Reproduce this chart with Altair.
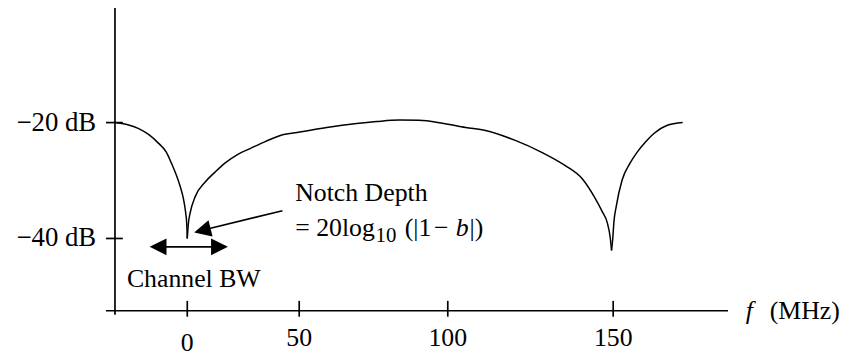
import altair as alt
import pandas as pd

# ---- curve (frequency in MHz, level in dB) ----
left_f = [-32.3, -27.0, -21.7, -17.3, -12.8, -9.3, -7.1, -4.9, -3.1, -1.8, -0.9, -0.22, 0.0]
left_db = [-20.0, -20.34, -21.03, -22.05, -23.59, -25.13, -27.0, -29.06, -31.11, -33.0, -35.04, -37.6, -40.0]

mid_f = [0.0, 0.44, 1.3, 3.5, 8.0, 12.4, 16.8, 22.6, 28.3, 35.0, 41.6, 49.1, 59.3, 69.3, 76.0,
         83.7, 90.3, 98.3, 105.4, 111.4, 120.4, 128.4, 135.3, 140.7, 144.3, 146.7, 148.2, 149.1, 149.5]
mid_db = [-40.0, -37.6, -35.56, -32.82, -30.26, -28.55, -27.0, -25.47, -24.44, -23.25, -22.22, -21.71,
          -20.85, -20.17, -19.83, -19.57, -19.6, -20.12, -20.85, -21.37, -23.08, -25.13, -27.35,
          -29.74, -32.82, -35.38, -37.26, -39.83, -42.05]

right_f = [149.5, 149.9, 150.2, 150.9, 152.7, 155.1, 157.2, 159.9, 162.3, 166.2, 171.0]
right_db = [-42.05, -39.83, -37.26, -34.53, -29.91, -27.0, -25.13, -23.25, -21.88, -20.51, -20.0]

# ---- axes ----
x_ticks = [0, 50, 100, 150]
x_tick_labels = ["0", "50", "100", "150"]
y_ticks = [-20, -40]
y_tick_labels = ["\u221220 dB", "\u221240 dB"]

FONT = "Liberation Serif"

xs = alt.Scale(domain=[0, 50, 100, 150], range=[181, 294, 444, 611], nice=False, zero=False)
ys = alt.Scale(domain=[-40, -20], range=[231, 114], nice=False, zero=False)

curve = pd.DataFrame({
    "f": left_f + mid_f + right_f,
    "db": left_db + mid_db + right_db,
    "seg": ["a"] * len(left_f) + ["b"] * len(mid_f) + ["c"] * len(right_f),
})

X = lambda fld: alt.X(fld, type="quantitative", scale=xs, axis=None)
Y = lambda fld: alt.Y(fld, type="quantitative", scale=ys, axis=None)

line = alt.Chart(curve).mark_line(color="black", strokeWidth=1.5, interpolate="monotone").encode(
    x=X("f"), y=Y("db"), detail="seg:N", order="f:Q"
)

# axis frame (data units)
frame = pd.DataFrame({
    "x1": [-36.3, -32.3] + x_ticks + [-36.3] * len(y_ticks),
    "x2": [184.7, -32.3] + x_ticks + [-28.8] * len(y_ticks),
    "y1": [-52.48, 0.0] + [-50.77] * len(x_ticks) + y_ticks,
    "y2": [-52.48, -53.16] + [-53.5] * len(x_ticks) + y_ticks,
})
frame_rules = alt.Chart(frame).mark_rule(color="black", strokeWidth=1.7).encode(
    x=X("x1"), x2="x2", y=Y("y1"), y2="y2"
)

xlab = pd.DataFrame({"f": x_ticks, "t": x_tick_labels, "y": [-59.4, -58.6, -58.6, -58.6]})
xlabels = alt.Chart(xlab).mark_text(font=FONT, fontSize=26, align="center", baseline="alphabetic").encode(
    x=X("f"), y=Y("y"), text="t"
)

ylab = pd.DataFrame({"db": y_ticks, "t": y_tick_labels, "f": [-40.7, -40.7]})
ylabels = alt.Chart(ylab).mark_text(font=FONT, fontSize=27, align="right", baseline="middle").encode(
    x=X("f"), y=Y("db"), text="t"
)

# annotations
ann = pd.DataFrame({
    "f": [2.9, 48.23, 48.23, 106.6],
    "db": [-47.0, -33.5, -39.66, -39.66],
    "t": ["Channel BW", "Notch Depth", "= 20log", "|)"],
})
ann_c = alt.Chart(ann.iloc[[0]]).mark_text(font=FONT, fontSize=26, align="center", baseline="middle").encode(
    x=X("f"), y=Y("db"), text="t")
ann_l = alt.Chart(ann.iloc[1:]).mark_text(font=FONT, fontSize=26, align="left", baseline="alphabetic").encode(
    x=X("f"), y=Y("db"), text="t")

formula_mid = pd.DataFrame({"f": [85.5, 95.33], "db": [-39.66, -39.66], "t": ["(|1", "\u2212"]})
ann_m = alt.Chart(formula_mid).mark_text(font=FONT, fontSize=26, align="left", baseline="alphabetic").encode(
    x=X("f"), y=Y("db"), text="t")
sub = pd.DataFrame({"f": [75.67], "db": [-40.68], "t": ["10"]})
ann_sub = alt.Chart(sub).mark_text(font=FONT, fontSize=21, align="left", baseline="alphabetic").encode(
    x=X("f"), y=Y("db"), text="t")
bvar = pd.DataFrame({"f": [102.4], "db": [-39.66], "t": ["b"]})
ann_b = alt.Chart(bvar).mark_text(font=FONT, fontSize=26, fontStyle="italic", align="left", baseline="alphabetic").encode(
    x=X("f"), y=Y("db"), text="t")

fvar = pd.DataFrame({"f": [190.1, 197.3], "db": [-52.48, -52.48], "t": ["f", "(MHz)"]})
ann_f = alt.Chart(fvar.iloc[[0]]).mark_text(font=FONT, fontSize=26, fontStyle="italic", align="left", baseline="middle").encode(
    x=X("f"), y=Y("db"), text="t")
ann_mhz = alt.Chart(fvar.iloc[[1]]).mark_text(font=FONT, fontSize=26, align="left", baseline="middle").encode(
    x=X("f"), y=Y("db"), text="t")

# arrows
arrow_lines = pd.DataFrame({
    "x1": [42.5, -13.05],
    "x2": [6.73, 14.4],
    "y1": [-35.2, -41.45],
    "y2": [-38.6, -41.45],
})
arrows = alt.Chart(arrow_lines).mark_rule(color="black", strokeWidth=1.6).encode(
    x=X("x1"), x2="x2", y=Y("y1"), y2="y2"
)
heads = pd.DataFrame({
    "f": [6.73, -13.05, 14.4],
    "db": [-38.6, -41.45, -41.45],
    "ang": [166, 180, 0],
})
arrow_heads = alt.Chart(heads).mark_point(
    shape="M-1,-1L1,0L-1,1Z", filled=True, color="black", opacity=1, size=289, strokeWidth=0
).encode(x=X("f"), y=Y("db"), angle=alt.Angle("ang:Q", scale=None))

chart = alt.layer(
    frame_rules, line, xlabels, ylabels, ann_c, ann_l, ann_m, ann_sub, ann_b, ann_f, ann_mhz, arrows, arrow_heads
).properties(
    width=841, height=350, padding=0, autosize=alt.AutoSizeParams(type="none"), background="white"
).configure_view(stroke=None)

chart.save("out.html", embed_options={"renderer": "svg", "actions": False})
